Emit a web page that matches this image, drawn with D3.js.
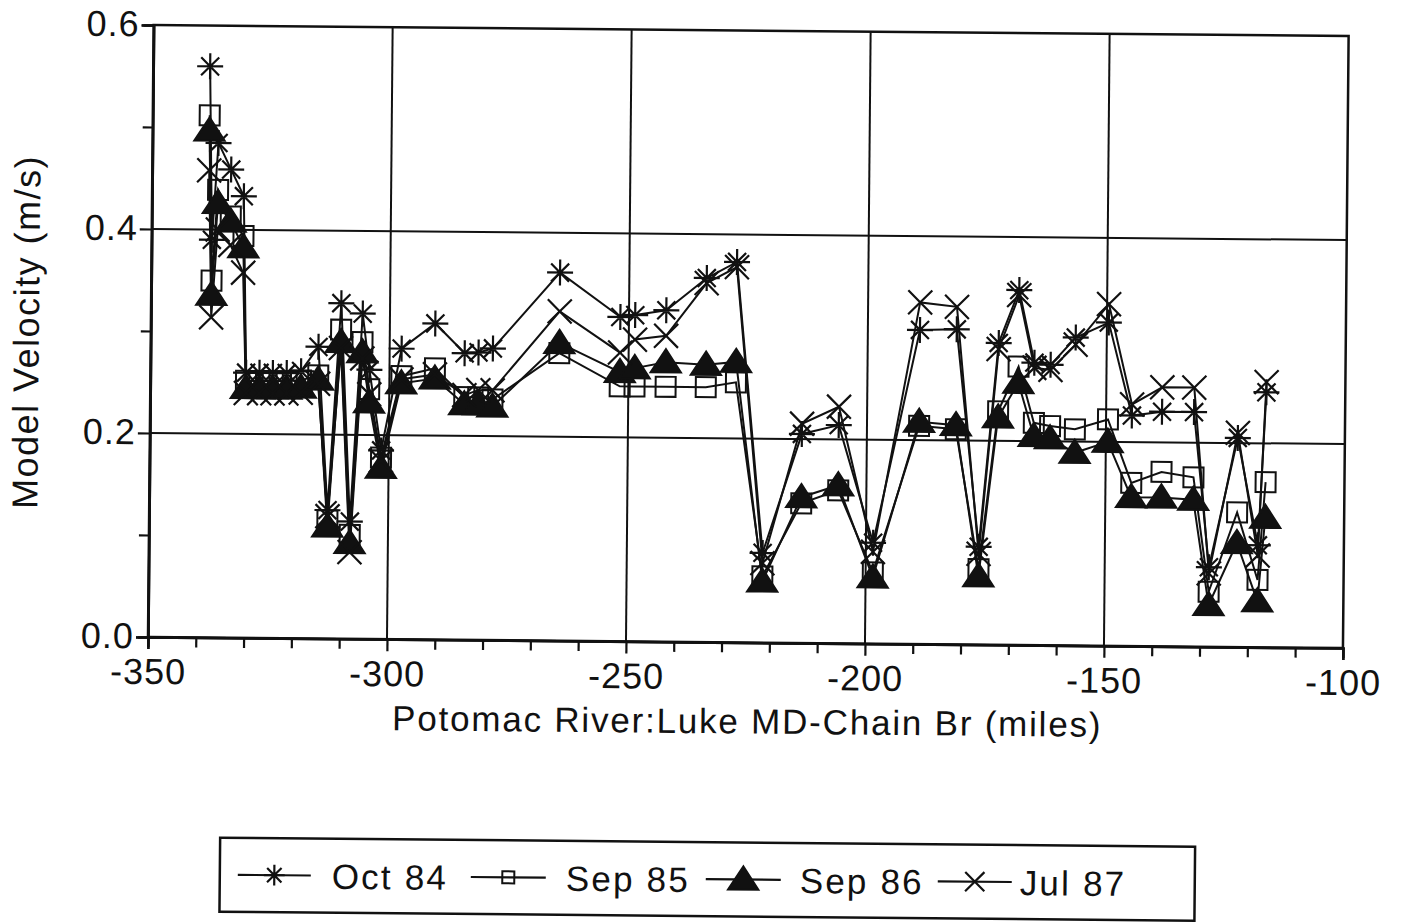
<!DOCTYPE html>
<html>
<head>
<meta charset="utf-8">
<script src="https://cdn.jsdelivr.net/npm/d3@7"></script>
<style>
  body { margin: 0; background: #fff; }
  text { font-family: "Liberation Sans", Arial, Helvetica, sans-serif; fill: #111; }
</style>
</head>
<body>
<svg id="chart" width="1403" height="922"></svg>
<script>
// River mile of each model station (Luke MD = upstream, Chain Bridge = downstream)
const riverMile = [-338.1, -337.4, -336.2, -333.5, -330.8, -330.0, -327.2, -324.4, -321.5, -318.5,
  -314.9, -312.7, -310.2, -308.0, -305.7, -304.2, -301.6, -297.5, -290.5, -284.3,
  -281.4, -278.4, -264.5, -251.8, -248.7, -242.2, -233.8, -227.5, -221.6, -213.6,
  -205.9, -198.5, -189.1, -181.4, -176.4, -172.6, -168.4, -165.1, -161.7, -156.5,
  -149.6, -144.6, -138.3, -131.6, -128.2, -122.4, -118.0, -116.5];

// Model velocity (m/s) for each survey period
const oct84 = [0.560, 0.390, 0.485, 0.459, 0.433, 0.260, 0.260, 0.260, 0.260, 0.262,
  0.286, 0.126, 0.329, 0.115, 0.319, 0.264, 0.185, 0.285, 0.310, 0.281,
  0.282, 0.286, 0.361, 0.318, 0.320, 0.325, 0.357, 0.373, 0.088, 0.205,
  0.214, 0.099, 0.308, 0.309, 0.096, 0.296, 0.348, 0.277, 0.275, 0.302,
  0.317, 0.226, 0.230, 0.230, 0.078, 0.205, 0.100, 0.250];
const sep85 = [0.512, 0.350, 0.439, 0.413, 0.394, 0.252, 0.252, 0.252, 0.252, 0.253,
  0.258, 0.116, 0.303, 0.102, 0.291, 0.245, 0.178, 0.258, 0.266, 0.238,
  0.238, 0.236, 0.282, 0.250, 0.250, 0.250, 0.250, 0.255, 0.065, 0.137,
  0.150, 0.070, 0.214, 0.211, 0.074, 0.229, 0.273, 0.218, 0.215, 0.212,
  0.222, 0.160, 0.171, 0.166, 0.054, 0.132, 0.066, 0.162];
const sep86 = [0.497, 0.336, 0.426, 0.408, 0.383, 0.245, 0.245, 0.245, 0.245, 0.246,
  0.254, 0.110, 0.291, 0.094, 0.281, 0.232, 0.168, 0.251, 0.256, 0.231,
  0.231, 0.229, 0.292, 0.264, 0.268, 0.274, 0.272, 0.275, 0.060, 0.143,
  0.155, 0.065, 0.218, 0.215, 0.067, 0.223, 0.257, 0.205, 0.203, 0.189,
  0.200, 0.146, 0.146, 0.144, 0.041, 0.102, 0.045, 0.127];
const jul87 = [0.458, 0.314, 0.400, 0.385, 0.358, 0.240, 0.240, 0.240, 0.240, 0.241,
  0.250, 0.120, 0.285, 0.085, 0.275, 0.240, 0.175, 0.255, 0.260, 0.240,
  0.245, 0.245, 0.323, 0.283, 0.296, 0.300, 0.352, 0.368, 0.078, 0.215,
  0.232, 0.090, 0.335, 0.331, 0.089, 0.290, 0.343, 0.272, 0.270, 0.295,
  0.335, 0.237, 0.254, 0.254, 0.072, 0.210, 0.090, 0.260];

const seriesNames = ["Oct 84", "Sep 85", "Sep 86", "Jul 87"];
const seriesMarkers = ["asterisk", "square", "triangle", "cross"];
const xMajorTicks = [-350, -300, -250, -200, -150, -100];
const xMinorTicks = d3.range(-340, -100, 10).filter(v => v % 50 !== 0);
const yMajorTicks = [0.0, 0.2, 0.4, 0.6];
const yMinorTicks = [0.1, 0.3, 0.5];
const xGrid = [-300, -250, -200, -150];
const yGrid = [0.2, 0.4];

const series = [oct84, sep85, sep86, jul87].map((vals, i) => ({
  name: seriesNames[i],
  marker: seriesMarkers[i],
  points: riverMile.map((m, j) => ({ x: m, y: vals[j] }))
}));

const svg = d3.select("#chart");
const plotLeft = 148, plotTop = 25, W = 1195, H = 612;

// The whole sheet sits slightly tilted
const sheet = svg.append("g").attr("transform", `rotate(0.53, ${plotLeft}, ${plotTop + H})`);
const plot = sheet.append("g").attr("transform", `translate(${plotLeft},${plotTop})`);

const x = d3.scaleLinear().domain([-350, -100]).range([0, W]);
const y = d3.scaleLinear().domain([0, 0.6]).range([H, 0]);

// grid
plot.append("g").selectAll("line").data(xGrid).join("line")
  .attr("x1", d => x(d)).attr("x2", d => x(d)).attr("y1", 0).attr("y2", H)
  .attr("stroke", "#111").attr("stroke-width", 2);
plot.append("g").selectAll("line").data(yGrid).join("line")
  .attr("x1", 0).attr("x2", W).attr("y1", d => y(d)).attr("y2", d => y(d))
  .attr("stroke", "#111").attr("stroke-width", 2);

// frame
plot.append("rect").attr("x", 0).attr("y", 0).attr("width", W).attr("height", H)
  .attr("fill", "none").attr("stroke", "#111").attr("stroke-width", 2.5);

// axes
const styleAxis = g => {
  g.select(".domain").attr("stroke", "#111").attr("stroke-width", 2.5);
  g.selectAll(".tick line").attr("stroke", "#111").attr("stroke-width", 2.2);
  g.selectAll(".tick text").attr("fill", "#111").style("font-family", "'Liberation Sans', Arial, sans-serif")
    .style("font-size", "36px").style("letter-spacing", "1px");
};
plot.append("g").attr("transform", `translate(0,${H})`)
  .call(d3.axisBottom(x).tickValues(xMinorTicks).tickSize(10).tickFormat(""))
  .call(styleAxis);
plot.append("g").attr("transform", `translate(0,${H})`)
  .call(d3.axisBottom(x).tickValues(xMajorTicks).tickSize(12).tickPadding(9).tickFormat(d => String(d)))
  .call(styleAxis)
  .call(g => g.selectAll(".tick text").attr("dy", "0.72em"));
plot.append("g")
  .call(d3.axisLeft(y).tickValues(yMinorTicks).tickSize(10).tickFormat(""))
  .call(styleAxis);
plot.append("g")
  .call(d3.axisLeft(y).tickValues(yMajorTicks).tickSize(12).tickPadding(2).tickFormat(d3.format(".1f")))
  .call(styleAxis)
  .call(g => g.selectAll(".tick text").attr("dy", "0.3em"));

// axis titles
sheet.append("text").attr("x", 748).attr("y", 728).attr("text-anchor", "middle")
  .style("font-size", "35px").style("letter-spacing", "1.8px")
  .text("Potomac River:Luke MD-Chain Br (miles)");
sheet.append("text").attr("transform", "translate(36,333) rotate(-90)").attr("text-anchor", "middle")
  .style("font-size", "36px").style("letter-spacing", "1.5px").text("Model Velocity (m/s)");

// marker glyphs
function markerPath(kind, k = 1) {
  if (kind === "asterisk") {
    const s = 13 * k, d = 9 * k;
    return `M${-s},0H${s}M0,${-s}V${s}M${-d},${-d}L${d},${d}M${-d},${d}L${d},${-d}`;
  }
  if (kind === "cross") {
    const d = 12 * k;
    return `M${-d},${-d}L${d},${d}M${-d},${d}L${d},${-d}`;
  }
  if (kind === "triangle") return `M0,${-13 * k}L${15 * k},${10 * k}L${-15 * k},${10 * k}Z`;
  return `M${-10 * k},${-10 * k}H${10 * k}V${10 * k}H${-10 * k}Z`;
}
function drawMarker(g, kind, k = 1) {
  g.append("path").attr("d", markerPath(kind, k))
    .attr("fill", kind === "triangle" ? "#111" : "none")
    .attr("stroke", "#111")
    .attr("stroke-width", kind === "square" ? 2 : 2.2);
}

const line = d3.line().x(d => x(d.x)).y(d => y(d.y));
plot.append("g").selectAll("path").data(series).join("path")
  .attr("d", d => line(d.points))
  .attr("fill", "none").attr("stroke", "#111").attr("stroke-width", 2);

series.forEach(s => {
  plot.append("g").selectAll("g").data(s.points).join("g")
    .attr("transform", d => `translate(${x(d.x)},${y(d.y)})`)
    .each(function () { drawMarker(d3.select(this), s.marker); });
});

// legend
const legend = sheet.append("g");
legend.append("rect").attr("x", 222).attr("y", 837).attr("width", 975).attr("height", 74)
  .attr("fill", "none").attr("stroke", "#111").attr("stroke-width", 2.5);
const legendLineX = [[240, 313], [473, 548], [708, 783], [940, 1014]];
const legendTextX = [334, 568, 802, 1022];
const legendMarkerScale = [0.8, 0.6, 1, 0.8];
seriesNames.forEach((name, i) => {
  const [x0, x1] = legendLineX[i];
  const g = legend.append("g").attr("transform", "translate(0,874)");
  g.append("line").attr("x1", x0).attr("x2", x1).attr("y1", 0).attr("y2", 0)
    .attr("stroke", "#111").attr("stroke-width", 2.2);
  drawMarker(g.append("g").attr("transform", `translate(${(x0 + x1) / 2},0)`), seriesMarkers[i], legendMarkerScale[i]);
  g.append("text").attr("x", legendTextX[i]).attr("y", 13).style("font-size", "35px")
    .style("letter-spacing", "2.2px").text(name);
});
</script>
</body>
</html>
